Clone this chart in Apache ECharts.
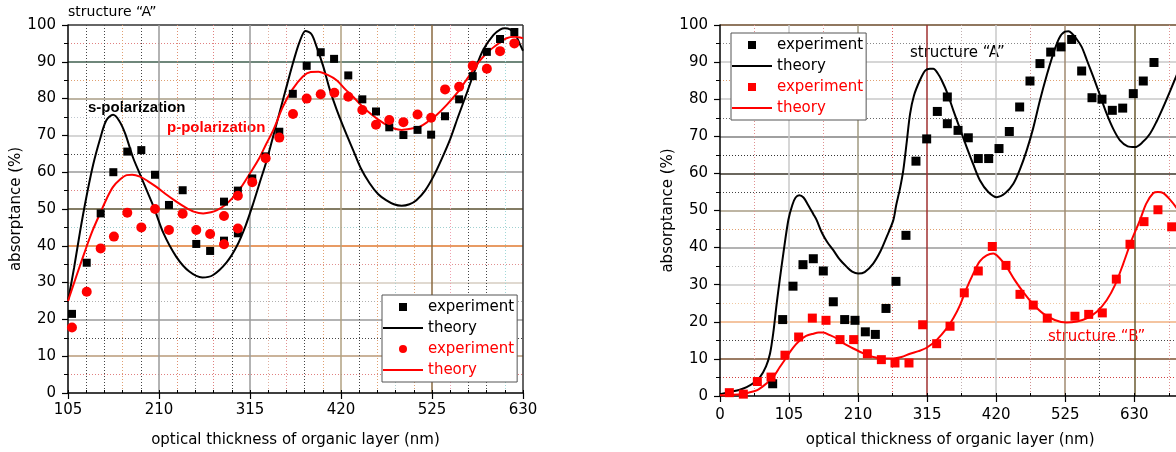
<!DOCTYPE html>
<html>
<head>
<meta charset="utf-8">
<script src="https://cdn.jsdelivr.net/npm/echarts/dist/echarts.min.js"></script>
<style>
html, body { margin: 0; background: #fff; }
#main { width: 1176px; height: 452px; }
</style>
</head>
<body>
<div id="main"></div>
<script>
// left panel: structure "A", s- and p-polarization
const leftBlackExp = [[109.6,21.5],[126.6,35.4],[142.7,48.8],[157.3,60.0],[173.4,65.6],[189.6,66.0],[205.4,59.3],[221.5,51.1],[237.3,55.1],[253,40.5],[269,38.6],[285,52.0],[285,41.4],[301,55.0],[301,43.4],[317.6,58.3],[333.1,64.3],[348.8,71.0],[364.4,81.3],[380.4,88.9],[396.6,92.6],[412,90.8],[428.4,86.3],[444.6,79.8],[460.4,76.5],[475.7,72.2],[492,70.1],[508.3,71.5],[524,70.2],[540,75.2],[556.3,79.8],[572,86.1],[588.3,92.7],[603.5,96.2],[620,98.1]];
const leftBlackTheory = [[105,25],[112,34],[119,44],[126,53],[134,62],[142,69],[149,74],[157,75.6],[164,74],[171,70.5],[180,64],[188,59.5],[196,55],[204,50.5],[215,43.5],[230,37],[245,33],[260,31.4],[272,32],[288,35.5],[300,40],[310,45.5],[318,51],[326,57],[334,63],[342,70],[350,77],[358,84],[365,90],[372,95.3],[379,98.4],[386,97.5],[392,94],[399.6,88.7],[407,82.5],[415,77],[425,71],[434,66],[443,61],[453,57],[463,54],[472,52.4],[481,51.3],[490,50.9],[499,51.3],[507,52.4],[517,55],[527,59],[536,63.5],[546,69],[555,75],[565,81.4],[575,88],[584,93.2],[596,97.3],[604,98.8],[609,99.1],[615,98.8],[621,97.5],[626,95],[630,93]];
const leftRedExp = [[109.6,17.8],[126.6,27.5],[142.7,39.3],[158,42.5],[173.4,49.0],[189.6,45.0],[205.4,50.0],[221.5,44.3],[237.3,48.7],[253,44.3],[269,43.2],[285,48.1],[285,40.4],[301,53.6],[301,44.7],[317.6,57.3],[333.1,63.8],[348.8,69.4],[364.6,75.8],[380.4,80.0],[396.6,81.2],[412.3,81.6],[428.4,80.5],[444.6,76.9],[460.4,72.9],[475.7,74.2],[492,73.6],[508.3,75.7],[524,74.8],[540.1,82.5],[556.3,83.2],[572,88.9],[588.3,88.1],[603.5,92.9],[620,95.0]];
const leftRedTheory = [[105,25],[115,32],[126.5,39.8],[134,44.5],[142,48.8],[150,53],[157,56],[165,58],[172.7,59.2],[179,59.3],[188,58.8],[197,57.6],[207,56],[218,54],[230,52],[240,50.5],[250,49.3],[261,48.8],[270,49.1],[277,49.7],[286,51],[296,53.3],[305,56],[315,59.7],[325,63.5],[334,67.8],[342,71.5],[353,77.8],[364,82.5],[376,86],[385,87.2],[394,87.3],[404,86.5],[415,85],[425,82.5],[434,80.5],[444,78],[453.5,76],[463,74.3],[473,72.8],[482,71.8],[490,71.5],[500,71.8],[511,72.4],[520,73.7],[530,75.5],[542,78.3],[553.5,81.4],[563,84.5],[572.6,87.8],[582,90.8],[592,93.2],[602,95],[611,96.4],[620,96.8],[630,96.4]];

// right panel: structure "A" (black) and structure "B" (red)
const rightBlackExp = [[80.1,3.3],[95.3,20.6],[111,29.6],[126.2,35.4],[141.9,37.0],[157.1,33.7],[172.3,25.4],[189.6,20.6],[205.3,20.4],[221,17.3],[236.2,16.6],[252.4,23.6],[267.6,30.9],[282.8,43.3],[298,63.3],[314.3,69.3],[330.5,76.7],[345.7,80.6],[345.7,73.4],[362,71.6],[377.6,69.6],[392.8,64.0],[408.6,64.0],[424.3,66.7],[440,71.3],[455.7,77.9],[471.4,84.9],[486.6,89.6],[502.9,92.7],[518.6,94.1],[534.8,96.1],[550,87.6],[565.7,80.4],[580.9,80.0],[596.6,77.0],[612.4,77.6],[628.5,81.5],[643.7,84.9],[660,89.9]];
const rightBlackTheory = [[0,0.5],[15,1.1],[30,1.7],[40.5,2.4],[51,3.5],[60.8,5.1],[70,8],[76,11.4],[81,17],[86.2,24.9],[91,31.5],[96.3,38.4],[104,47.5],[110,51.5],[115,53.5],[120.6,54.1],[127,53.5],[134,51.5],[142,49],[147,47.4],[155,44],[163,41.5],[172.3,39.3],[182,36.8],[192.7,34.8],[201,33.5],[210.3,33.0],[220,33.4],[233,35.7],[244,39],[253.5,42.9],[263.6,47.4],[268,51.5],[273.7,55.9],[278.7,60.8],[284,68.5],[289,76],[295,81],[304,85.1],[312,87.7],[319.3,88.2],[324.4,88.2],[331,87],[337.1,85.1],[346,81.5],[354.8,77],[365,72],[375.1,67.1],[385,62.5],[395.4,58.1],[408,55],[420.8,53.6],[434,54.7],[446.1,57.2],[456,61],[466.4,66.2],[476,72],[486.6,79.7],[497,86.5],[506.9,92.3],[516,96.5],[524.6,98.2],[530,98.3],[534.8,97.8],[542,96.3],[550,94.1],[558,90.5],[567.7,86.0],[578,81],[588,76.1],[598,72],[608.3,68.9],[620,67.3],[631.1,67.1],[642,68.3],[653.9,70.7],[664,74],[674.1,77.9],[684,82],[693.4,86],[700,89]];
const rightRedExp = [[14.2,0.9],[35.5,0.5],[56.8,3.9],[77.6,5.1],[98.8,11.0],[119.6,15.9],[140.4,21.0],[161.2,20.4],[182.5,15.2],[203.3,15.2],[224.1,11.4],[245.4,9.8],[266.1,8.9],[287.4,8.9],[308.2,19.2],[329.5,14.1],[349.8,18.8],[371.5,27.8],[392.8,33.7],[414.1,40.3],[434.9,35.2],[456.2,27.4],[476.4,24.5],[497.7,21.0],[539.8,21.5],[560.7,22.0],[581.4,22.4],[602.7,31.5],[623.5,40.9],[644.8,47.0],[666,50.2],[686.9,45.6]];
const rightRedTheory = [[0,0.2],[15,0.3],[30.4,0.5],[43,0.9],[55.8,1.5],[68,3],[81,5.1],[91,7.8],[101.4,10.5],[111,13],[121.7,15],[131,16.2],[141.9,16.8],[150,17.1],[157.1,17.1],[167,16.4],[177.5,15.5],[190,14],[202.7,12.8],[218,11.5],[233.1,10.5],[248,10.1],[263.6,10.1],[276,10.5],[289,11.4],[302,12.1],[314.3,13.0],[330,15.2],[344.7,18.2],[355,21],[365,24.5],[375,29],[385.2,33],[395,36.3],[405.5,37.9],[415.6,38.4],[425,37.2],[435.9,34.8],[448,31.3],[461.2,28],[476,24.8],[491.6,22.2],[509,20.5],[527.2,19.8],[543,20.1],[557.6,20.9],[573,22.7],[588,25.8],[601,30],[613.3,35.7],[626,42],[638.7,47.4],[648,51.8],[659,54.7],[666,55],[674.1,54.7],[684,53],[693.4,50.9],[700,49]];

const leftXRange = [105, 630];
const rightXRange = [0, 700];
const xStep = 105;
const yRange = [0, 100];
const yStep = 10;

const FONT = 'DejaVu Sans';
const T = 'transparent';
const dots = [1, 2];
const ICON_SQUARE = 'path://M0,0H8V8H0Z';
const ICON_LINE = 'path://M0,0H40V2H0Z';

var myChart = echarts.init(document.getElementById('main'));

function mainX(grid, range, colors, margin, gap, showMax) {
    return {
        type: 'value', gridIndex: grid, min: range[0], max: range[1], interval: xStep, position: 'bottom',
        name: 'optical thickness of organic layer (nm)', nameLocation: 'middle', nameGap: gap,
        nameTextStyle: { fontFamily: FONT, fontSize: 15, color: '#000' },
        axisLine: { show: true, onZero: false, lineStyle: { color: '#000', width: 1.5 } },
        axisTick: { show: true, length: 6, lineStyle: { color: '#000', width: 1.2 } },
        axisLabel: { fontFamily: FONT, fontSize: 15, color: '#000', margin: margin, showMaxLabel: showMax },
        splitLine: { show: true, lineStyle: { color: colors, width: 1.5 } }
    };
}
function minorX(grid, range, step, colors) {
    return {
        type: 'value', gridIndex: grid, min: range[0], max: range[1], interval: step, position: 'bottom',
        axisLine: { show: false }, axisLabel: { show: false },
        axisTick: { show: true, inside: true, length: 3, lineStyle: { color: '#000' } },
        splitLine: { show: true, lineStyle: { color: colors, width: 1, type: dots } }
    };
}
function mainY(grid, colors, margin) {
    return {
        type: 'value', gridIndex: grid, min: yRange[0], max: yRange[1], interval: yStep, position: 'left',
        name: 'absorptance (%)', nameLocation: 'middle', nameRotate: 90, nameGap: 44,
        nameTextStyle: { fontFamily: FONT, fontSize: 15, color: '#000' },
        axisLine: { show: true, onZero: false, lineStyle: { color: '#000', width: 1.5 } },
        axisTick: { show: true, length: 6, lineStyle: { color: '#000', width: 1.2 } },
        axisLabel: { fontFamily: FONT, fontSize: 15, color: '#000', margin: margin },
        splitLine: { show: true, lineStyle: { color: colors, width: 1.5 } }
    };
}
function minorY(grid, colors) {
    return {
        type: 'value', gridIndex: grid, min: yRange[0], max: yRange[1], interval: yStep / 2, position: 'left',
        axisLine: { show: false }, axisLabel: { show: false },
        axisTick: { show: true, length: 4, lineStyle: { color: '#000' } },
        splitLine: { show: true, lineStyle: { color: colors, width: 1, type: dots } }
    };
}
function theory(name, x, y, data, color) {
    return { type: 'line', name: name, xAxisIndex: x, yAxisIndex: y, data: data, symbol: 'none', smooth: 0.3,
        lineStyle: { color: color, width: 2 }, itemStyle: { color: color }, z: 3 };
}
function experiment(name, x, y, data, color, symbol, size) {
    return { type: 'scatter', name: name, xAxisIndex: x, yAxisIndex: y, data: data, symbol: symbol, symbolSize: size,
        itemStyle: { color: color, opacity: 1 }, z: 4 };
}
// names: [black exp, black theory, red exp, red theory]; icons in the same order
function legendBox(left, top, names, icons) {
    return {
        orient: 'vertical', left: left, top: top, itemWidth: 40, itemHeight: 8, itemGap: 3,
        symbolKeepAspect: true,
        padding: [3, 3, 3, 1], backgroundColor: '#fff', borderColor: '#555', borderWidth: 1,
        textStyle: { fontFamily: FONT, fontSize: 15, lineHeight: 18 },
        formatter: function (n) { return n.trim(); },
        selectedMode: false,
        data: names.map(function (n, i) {
            return { name: n, icon: icons[i], textStyle: { color: i < 2 ? '#000' : '#f00' } };
        })
    };
}

myChart.setOption({
    animation: false,
    grid: [
        { left: 68, top: 25, width: 455, height: 368, outerBoundsMode: 'none' },
        { left: 720, top: 25, width: 460.3, height: 371, outerBoundsMode: 'none' }
    ],
    xAxis: [
        mainX(0, leftXRange, [T, '#9a9a9a', '#9a9a9a', '#b0a080', '#8a6a40', '#333'], 10, 40, true),
        minorX(0, leftXRange, 21, [T, '#444', '#444', '#e0a070', '#444', T, '#e09070', '#777', '#e08080', '#444', T,
            '#e0b0a0', '#e09090', '#444', '#e0a070', T, '#444', '#e0a070', '#b0d0d0', '#e0a070', T,
            '#f0a0b0', '#444', '#444', '#a0d8d8', T]),
        mainX(1, rightXRange, [T, '#c8c8c8', '#a09a80', '#a03030', '#c8c8c8', '#a08a70', '#6a5a30', T], 12, 37, false),
        minorX(1, rightXRange, 52.5, [T, '#e09090', T, '#e09090', T, '#e06060', T, '#c0b0b0', T, '#d09090', T, '#555', T, '#e09090', T])
    ],
    yAxis: [
        mainY(0, [T, '#b89a78', '#9a9a9a', '#d6ccc0', '#e07a30', '#5a5030', '#9a9a9a', '#c8c8c8', '#a89c84', '#3f5f4f', '#333'], 12),
        minorY(0, [T, '#e08080', T, '#444', T, '#b0b0b0', T, '#e09090', T, '#a0d0d0', T,
            '#e08080', T, '#444', T, '#c0c8d0', T, '#e0a070', T, '#e08080', T]),
        mainY(1, [T, '#7a5030', '#f0b080', '#c8c8c8', '#9a9a9a', '#a89c84', '#3a3428', '#808080', '#c8c8c8', '#c8c8c8', '#6b4a2a'], 12),
        minorY(1, [T, '#d04040', T, '#444', T, '#f0c8a0', T, '#c8c8c8', T, '#e0a070', T,
            '#444', T, '#333', T, '#666', T, '#e0a070', T, '#888', T])
    ],
    legend: [
        legendBox(382, 295, ['experiment', 'theory', 'experiment ', 'theory '], [ICON_SQUARE, ICON_LINE, 'circle', ICON_LINE]),
        legendBox(731, 33, ['experiment  ', 'theory  ', 'experiment   ', 'theory   '], [ICON_SQUARE, ICON_LINE, ICON_SQUARE, ICON_LINE])
    ],
    graphic: [
        { type: 'text', left: 68, top: 5, style: { text: 'structure “A”', fontFamily: FONT, fontSize: 14, fill: '#000' } },
        { type: 'text', left: 88, top: 100, style: { text: 's-polarization', fontFamily: 'Liberation Sans', fontWeight: 'bold', fontSize: 15, fill: '#000' } },
        { type: 'text', left: 167, top: 120, style: { text: 'p-polarization', fontFamily: 'Liberation Sans', fontWeight: 'bold', fontSize: 15, fill: '#f00' } },
        { type: 'text', left: 910, top: 46, style: { text: 'structure “A”', fontFamily: FONT, fontSize: 15, fill: '#000' } },
        { type: 'text', left: 1048, top: 330, style: { text: 'structure “B”', fontFamily: FONT, fontSize: 15, fill: '#f00' } }
    ],
    series: [
        theory('theory', 0, 0, leftBlackTheory, '#000'),
        theory('theory ', 0, 0, leftRedTheory, '#f00'),
        experiment('experiment', 0, 0, leftBlackExp, '#000', 'rect', 8),
        experiment('experiment ', 0, 0, leftRedExp, '#f00', 'circle', 10),
        theory('theory  ', 2, 2, rightBlackTheory, '#000'),
        theory('theory   ', 2, 2, rightRedTheory, '#f00'),
        experiment('experiment  ', 2, 2, rightBlackExp, '#000', 'rect', 9),
        experiment('experiment   ', 2, 2, rightRedExp, '#f00', 'rect', 9)
    ]
});
</script>
</body>
</html>
